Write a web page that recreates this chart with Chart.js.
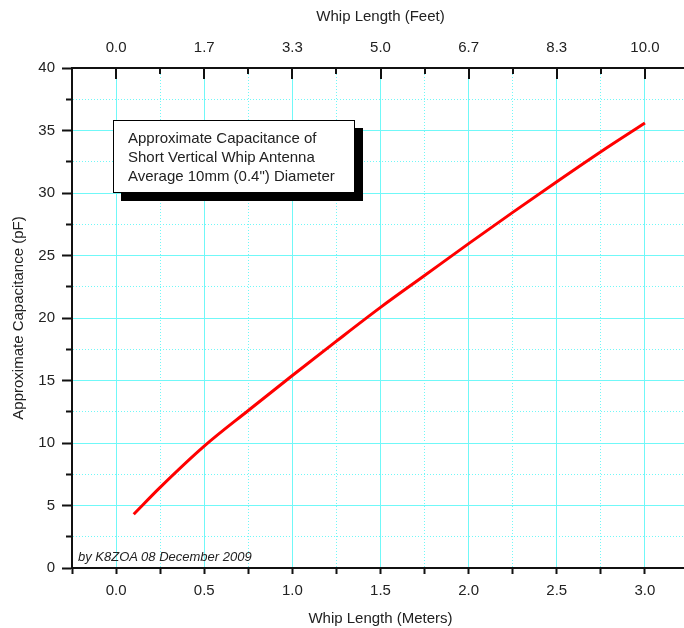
<!DOCTYPE html>
<html>
<head>
<meta charset="utf-8">
<script src="https://cdn.jsdelivr.net/npm/chart.js@4"></script>
<style>
  html, body { margin: 0; padding: 0; background: #fff; overflow: hidden; }
  #wrap { position: relative; width: 700px; height: 628px; }
  #note {
    position: absolute; left: 113px; top: 120px; width: 226px; height: 64px;
    padding: 7px 0 0 14px; border: 1px solid #000; background: #fff;
    box-shadow: 8px 8px 0 #000;
    font: 15px "Liberation Sans", Arial, sans-serif; line-height: 19px; color: #222;
  }
  #credit {
    position: absolute; left: 78px; top: 549px;
    font: italic 13px "Liberation Sans", Arial, sans-serif; color: #222;
  }
</style>
</head>
<body>
<div id="wrap">
  <canvas id="chart" width="700" height="628"></canvas>
  <div id="note">Approximate Capacitance of<br>Short Vertical Whip Antenna<br>Average 10mm (0.4") Diameter</div>
  <div id="credit">by K8ZOA 08 December 2009</div>
</div>
<script>
// whip length (m) vs capacitance (pF)
const lengthM = [0.1, 0.25, 0.5, 0.75, 1.0, 1.25, 1.5, 1.75, 2.0, 2.25, 2.5, 2.75, 3.0];
const capPF = [4.3, 6.45, 9.75, 12.6, 15.4, 18.15, 20.85, 23.4, 25.95, 28.45, 30.9, 33.3, 35.6];

const CYAN = '#70f8f8';
const INK = '#111';
const FONT = { family: '"Liberation Sans", Arial, sans-serif', size: 15 };

Chart.defaults.font.family = FONT.family;

function isMajorX(v) { return Math.abs(v * 2 - Math.round(v * 2)) < 1e-6; }
function isMajorY(v) { return Math.abs(v / 5 - Math.round(v / 5)) < 1e-6; }

const ctx = document.getElementById('chart').getContext('2d');
new Chart(ctx, {
    type: 'line',
    data: {
        datasets: [{
            data: lengthM.map((x, i) => ({ x: x, y: capPF[i] })),
            borderColor: '#ff0000',
            borderWidth: 3,
            pointRadius: 0,
            fill: false,
            tension: 0.4,
            cubicInterpolationMode: 'monotone'
        }]
    },
    options: {
        responsive: false,
        animation: false,
        devicePixelRatio: 1,
        layout: { padding: 0 },
        plugins: { legend: { display: false }, tooltip: { enabled: false } },
        scales: {
            x: {
                type: 'linear', position: 'bottom', min: -0.25, max: 3.25,
                afterFit: s => { s.height = 60; },
                ticks: {
                    stepSize: 0.25, autoSkip: false, maxRotation: 0, padding: 8,
                    color: '#222', font: FONT,
                    callback: v => isMajorX(v) && v >= 0 ? v.toFixed(1) : ''
                },
                grid: {
                    color: CYAN, lineWidth: 1,
                    tickColor: INK, tickLength: 6, tickWidth: 2,
                    tickBorderDash: c => c.tick && !isMajorX(c.tick.value) ? [5, 100] : []
                },
                border: {
                    color: INK, width: 2,
                    dash: c => c.tick && !isMajorX(c.tick.value) ? [1, 2] : []
                },
                title: { display: true, text: 'Whip Length (Meters)', color: '#222', font: FONT, padding: { top: 0, bottom: 0 } }
            },
            x2: {
                type: 'linear', position: 'top', min: -0.25, max: 3.25,
                afterFit: s => { s.height = 68; },
                ticks: {
                    stepSize: 0.25, autoSkip: false, maxRotation: 0, padding: 11,
                    color: '#222', font: FONT,
                    callback: v => isMajorX(v) && v >= 0 && v <= 3 ? (v * 10 / 3).toFixed(1) : ''
                },
                // dark dashes at the top of the grid lines act as inward ticks
                grid: {
                    drawTicks: false, lineWidth: 2,
                    color: c => c.tick && c.tick.value > -0.01 && c.tick.value < 3.01 ? INK : 'rgba(0,0,0,0)'
                },
                border: {
                    color: INK, width: 2,
                    dash: c => !c.tick ? [] : (isMajorX(c.tick.value) ? [10, 2000] : [5, 2000])
                },
                title: { display: true, text: 'Whip Length (Feet)', color: '#222', font: FONT, padding: { top: 8, bottom: 0 } }
            },
            y: {
                type: 'linear', position: 'left', min: 0, max: 40,
                afterFit: s => { s.width = 72; },
                ticks: {
                    stepSize: 2.5, autoSkip: false, padding: 7,
                    color: '#222', font: FONT,
                    callback: v => isMajorY(v) ? String(v) : ''
                },
                grid: {
                    color: CYAN, lineWidth: 1,
                    tickColor: INK, tickLength: 10, tickWidth: 2,
                    tickBorderDash: c => c.tick && !isMajorY(c.tick.value) ? [0, 4, 6, 100] : []
                },
                border: {
                    color: INK, width: 2,
                    dash: c => c.tick && !isMajorY(c.tick.value) ? [1, 2] : []
                },
                title: { display: true, text: 'Approximate Capacitance (pF)', color: '#222', font: FONT, padding: { top: 10, bottom: 0 } }
            }
        }
    }
});
</script>
</body>
</html>
